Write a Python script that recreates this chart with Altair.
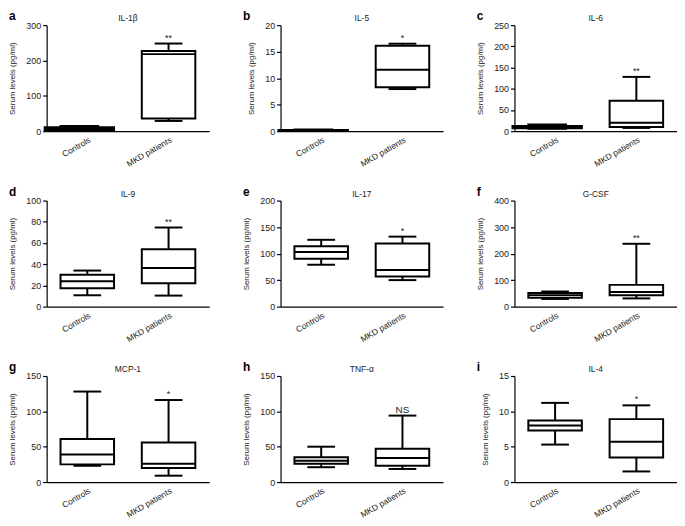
import altair as alt
import pandas as pd

letters = ["a", "b", "c", "d", "e", "f", "g", "h", "i"]
cytokines = ["IL-1β", "IL-5", "IL-6", "IL-9", "IL-17", "G-CSF", "MCP-1", "TNF-α", "IL-4"]
groups = ["Controls", "MKD patients"]
y_max = [300, 20, 250, 100, 200, 400, 150, 150, 15]
y_ticks = [
    [0, 100, 200, 300],
    [0, 5, 10, 15, 20],
    [0, 50, 100, 150, 200, 250],
    [0, 20, 40, 60, 80, 100],
    [0, 50, 100, 150, 200],
    [0, 100, 200, 300, 400],
    [0, 50, 100, 150],
    [0, 50, 100, 150],
    [0, 5, 10, 15],
]
significance = ["**", "*", "**", "**", "*", "**", "*", "NS", "*"]

ctrl_min = [1, 0.1, 6, 10.7, 79, 29, 23, 21, 5.3]
ctrl_q1 = [2, 0.15, 7, 17.4, 90.5, 33, 25, 26, 7.3]
ctrl_median = [6, 0.2, 9, 24, 103, 43, 39, 30, 8.0]
ctrl_q3 = [11, 0.25, 12, 30, 114, 51, 61, 35, 8.7]
ctrl_max = [15, 0.3, 16, 34, 126, 57, 128, 50, 11.2]

mkd_min = [29, 7.95, 7.7, 10.4, 50, 31, 9, 18.5, 1.5]
mkd_q1 = [36, 8.3, 10, 22, 57, 43, 20, 23, 3.46]
mkd_median = [218, 11.6, 20, 36.4, 69, 55, 26, 34, 5.7]
mkd_q3 = [227, 16.1, 72, 54, 119, 82, 56, 47, 8.9]
mkd_max = [248, 16.5, 128, 74.6, 132, 237, 116, 94, 10.85]

W = 164
H = 107


def panel(i):
    x_axis = alt.Axis(title=None, labelAngle=330, labelAlign="right",
                      labelBaseline="top", ticks=False, labelPadding=4,
                      labelFontSize=8.5)
    x = alt.X("group:N", sort=groups,
              scale=alt.Scale(type="point", padding=0.5), axis=x_axis)
    y_scale = alt.Scale(domain=[0, y_max[i]], nice=False)
    y_axis = alt.Axis(values=y_ticks[i], title="Serum levels (pg/ml)",
                      tickSize=4, labelPadding=2, titlePadding=9,
                      labelFontSize=9, titleFontSize=8)

    def Y(f):
        return alt.Y(f, scale=y_scale, axis=y_axis)

    def box_layers(g, lo, q1, med, q3, hi, box_w, cap_w, dx):
        d = pd.DataFrame({"group": [g], "lo": [lo], "q1": [q1], "med": [med],
                          "q3": [q3], "hi": [hi]})
        b = alt.Chart(d)
        return [
            b.mark_rule(color="black", strokeWidth=2, xOffset=dx).encode(
                x=x, y=Y("lo:Q"), y2="hi:Q"),
            b.mark_bar(size=box_w, fill="white", stroke="black",
                       strokeWidth=2, xOffset=dx).encode(
                x=x, y=Y("q1:Q"), y2="q3:Q"),
            b.mark_tick(color="black", size=box_w, thickness=2, opacity=1,
                        xOffset=dx).encode(x=x, y=Y("med:Q")),
            b.mark_tick(color="black", size=cap_w, thickness=2, opacity=1,
                        xOffset=dx).encode(x=x, y=Y("lo:Q")),
            b.mark_tick(color="black", size=cap_w, thickness=2, opacity=1,
                        xOffset=dx).encode(x=x, y=Y("hi:Q")),
        ]

    if i < 3:
        cw, ccap, cdx = 70, 40, -8
    else:
        cw, ccap, cdx = 54, 28, 0
    layers = box_layers(groups[0], ctrl_min[i], ctrl_q1[i], ctrl_median[i],
                        ctrl_q3[i], ctrl_max[i], cw, ccap, cdx)
    layers += box_layers(groups[1], mkd_min[i], mkd_q1[i], mkd_median[i],
                         mkd_q3[i], mkd_max[i], 54, 28, 0)

    sig_df = pd.DataFrame({"group": [groups[1]], "hi": [mkd_max[i]],
                           "label": [significance[i]]})
    sig = alt.Chart(sig_df).mark_text(
        fontSize=10 if significance[i] == "NS" else 9, dy=-3,
        baseline="alphabetic", color="#222").encode(
        x=x, y=Y("hi:Q"), text="label:N")
    ttl = alt.Chart(pd.DataFrame({"t": [cytokines[i]]})).mark_text(
        fontSize=8.5, baseline="alphabetic", color="#222").encode(
        x=alt.value(W / 2), y=alt.value(-4), text="t:N")
    let = alt.Chart(pd.DataFrame({"t": [letters[i]]})).mark_text(
        fontSize=12, fontWeight="bold", align="left", baseline="alphabetic",
        color="black").encode(
        x=alt.value(-38), y=alt.value(-5), text="t:N")
    return alt.layer(*layers, sig, ttl, let).properties(width=W, height=H)


chart = alt.concat(*[panel(i) for i in range(9)], columns=3,
                   spacing={"row": 70, "column": 72}, bounds="flush").properties(
    padding=0
).configure(font="Liberation Sans").configure_view(strokeWidth=0).configure_axis(
    grid=False, labelColor="#222", titleColor="#222", domainColor="black",
    tickColor="black", domainWidth=1.2, tickWidth=1.2, titleFontWeight="normal",
    labelFont="Liberation Sans", titleFont="Liberation Sans")

chart.save("out.html", embed_options={"renderer": "svg", "actions": False})
